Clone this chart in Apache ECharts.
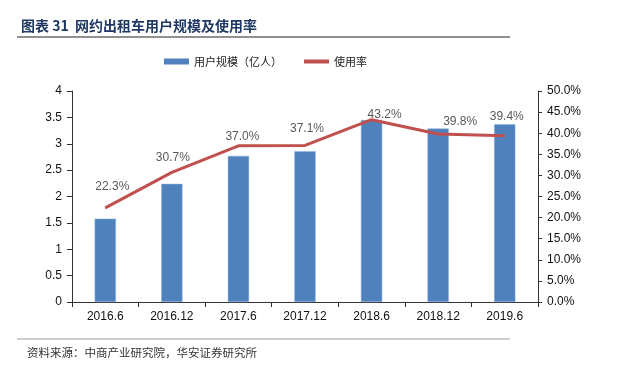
<!DOCTYPE html>
<html><head><meta charset="utf-8">
<script src="https://cdn.jsdelivr.net/npm/echarts@6/dist/echarts.min.js"></script>
<style>html,body{margin:0;padding:0;background:#fff}#c{width:634px;height:371px}</style>
</head><body><div id="c"></div>
<script>
const categories = ['2016.6','2016.12','2017.6','2017.12','2018.6','2018.12','2019.6'];
const users = [1.58, 2.24, 2.77, 2.86, 3.45, 3.29, 3.37];
const usageRate = [22.3, 30.7, 37.0, 37.1, 43.2, 39.8, 39.4];
const leftTicks = [0, 0.5, 1, 1.5, 2, 2.5, 3, 3.5, 4];
const rightTicks = [0, 5, 10, 15, 20, 25, 30, 35, 40, 45, 50];
const labelOffsets = [[7,-10],[1,-3],[4,2],[2,-5],[13,6],[22,-1],[2,-8]];

const chart = echarts.init(document.getElementById('c'));
const font = '"Liberation Sans", Arial, sans-serif';
const cjk = '"Noto Sans CJK SC", sans-serif';
chart.setOption({
  animation: false,
  title: {
    text: '图表 31  网约出租车用户规模及使用率',
    left: 16, top: 14,
    textStyle: {fontFamily: cjk, fontSize: 14, fontWeight: 'bold', color: '#1F3864'}
  },
  graphic: [
    {type: 'line', shape: {x1: 17, y1: 37, x2: 510, y2: 37}, style: {stroke: '#222', lineWidth: 1.2}},
    {type: 'line', shape: {x1: 17, y1: 339, x2: 510, y2: 339}, style: {stroke: '#999', lineWidth: 1}},
    {type: 'text', left: 27, top: 347, style: {text: '资料来源：中商产业研究院，华安证券研究所', font: '11.5px ' + cjk, fill: '#333'}}
  ],
  legend: {
    left: 159, top: 51, itemGap: 22, itemWidth: 25, itemHeight: 6,
    textStyle: {fontFamily: cjk, fontSize: 11, color: '#222'},
    data: [{name: '用户规模（亿人）', icon: 'rect', itemStyle: {borderWidth: 0}},
           {name: '使用率', icon: 'path://M0,0 L25,0 L25,4 L0,4 Z'}]
  },
  grid: {left: 72, right: 96, top: 91, bottom: 69},
  xAxis: {
    type: 'category', data: categories, boundaryGap: true,
    axisLine: {lineStyle: {color: '#333', width: 1}},
    axisTick: {show: true, length: 5, lineStyle: {color: '#333'}},
    axisLabel: {fontFamily: font, fontSize: 12, color: '#111', margin: 9, interval: 0}
  },
  yAxis: [
    {type: 'value', min: 0, max: 4, interval: 0.5, splitLine: {show: false},
     axisLine: {show: true, lineStyle: {color: '#333'}},
     axisTick: {show: true, length: 5, lineStyle: {color: '#333'}},
     axisLabel: {fontFamily: font, fontSize: 12, color: '#111', margin: 10,
       formatter: v => leftTicks.includes(v) ? String(v) : ''}},
    {type: 'value', min: 0, max: 50, interval: 5, position: 'right', splitLine: {show: false},
     axisLine: {show: true, lineStyle: {color: '#333'}},
     axisTick: {show: true, length: 4, lineStyle: {color: '#333'}},
     axisLabel: {fontFamily: font, fontSize: 12, color: '#111', margin: 9,
       formatter: v => rightTicks.includes(v) ? v.toFixed(1) + '%' : ''}}
  ],
  series: [
    {name: '用户规模（亿人）', type: 'bar', data: users, barWidth: '32%', yAxisIndex: 0,
     itemStyle: {color: '#4F81BD', borderColor: '#8EB4E3', borderWidth: 0.5}},
    {name: '使用率', type: 'line', yAxisIndex: 1, symbol: 'circle', symbolSize: 1, showSymbol: true,
     lineStyle: {color: '#C0504D', width: 3}, itemStyle: {color: '#C0504D'},
     data: usageRate.map((v, i) => ({value: v, label: {show: true, offset: labelOffsets[i]}})),
     label: {show: true, position: 'top', distance: 5, fontFamily: font, fontSize: 12, color: '#595959',
       formatter: p => p.value.toFixed(1) + '%'}}
  ]
});
</script></body></html>
